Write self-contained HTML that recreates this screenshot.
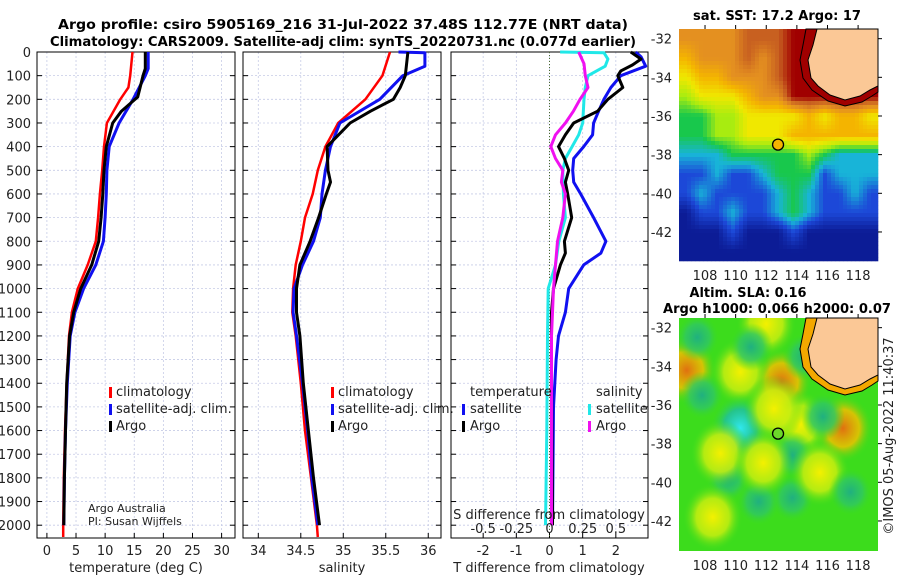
<!DOCTYPE html>
<html><head><meta charset="utf-8"><style>
html,body{margin:0;padding:0;background:#fff;}
svg{display:block;font-family:"DejaVu Sans","Liberation Sans",sans-serif;}
</style></head><body>
<svg id="fig" width="900" height="580" viewBox="0 0 900 580" xmlns="http://www.w3.org/2000/svg">
<text x="343" y="29" font-size="13.5" font-weight="bold" text-anchor="middle" textLength="570" lengthAdjust="spacingAndGlyphs">Argo profile: csiro 5905169_216 31-Jul-2022 37.48S 112.77E (NRT data)</text>
<text x="343" y="46" font-size="13.5" font-weight="bold" text-anchor="middle" textLength="586" lengthAdjust="spacingAndGlyphs">Climatology: CARS2009. Satellite-adj clim: synTS_20220731.nc (0.077d earlier)</text>
<g id="g1"></g>
<g id="g2"></g>
<g id="g3"></g>
<g id="m1"></g>
<g id="m2"></g>
<text x="777" y="20" font-size="13.5" font-weight="bold" text-anchor="middle" textLength="168" lengthAdjust="spacingAndGlyphs">sat. SST: 17.2 Argo: 17</text>
<text x="748" y="297" font-size="13.5" font-weight="bold" text-anchor="middle" textLength="117" lengthAdjust="spacingAndGlyphs">Altim. SLA: 0.16</text>
<text x="777" y="313" font-size="13.5" font-weight="bold" text-anchor="middle" textLength="228" lengthAdjust="spacingAndGlyphs">Argo h1000: 0.066 h2000: 0.07</text>
<text transform="translate(893,436) rotate(-90)" font-size="13" text-anchor="middle" fill="#222">©IMOS 05-Aug-2022 11:40:37</text>
</svg>
<script>
// ---- profile data ----
const depthTicks = [0,100,200,300,400,500,600,700,800,900,1000,1100,1200,1300,1400,1500,1600,1700,1800,1900,2000];
const tTicks = [0,5,10,15,20,25,30];
const sTicks = [34,34.5,35,35.5,36];
const dTTicks = [-2,-1,0,1,2];
const dSTicks = [-0.5,-0.25,0,0.25,0.5];
const dSTickLabels = ["-0.5","-0.25","0","0.25","0.5"];

const climTDepth = [0,100,150,200,300,400,500,600,700,800,900,1000,1100,1200,1400,1600,1800,2000,2050];
const climTVal   = [14.7,14.3,14.0,12.6,10.3,9.8,9.5,9.1,8.8,8.4,7.0,5.3,4.3,3.8,3.4,3.1,2.9,2.8,2.8];
const satTDepth  = [0,70,100,200,300,400,500,600,700,800,900,1000,1100,1200,1400,1600,1800,2000];
const satTVal    = [17.4,17.4,16.9,14.8,12.4,10.7,10.3,10.2,10.0,9.7,8.4,6.3,4.8,4.0,3.5,3.2,3.0,2.9];
const argoTDepth = [0,70,100,150,190,250,300,400,500,600,700,800,900,1000,1100,1200,1400,1600,1800,2000];
const argoTVal   = [16.9,16.9,16.5,16.0,15.6,12.8,11.3,10.2,9.8,9.6,9.3,8.9,7.7,5.8,4.6,3.9,3.4,3.2,3.0,2.9];

const climSDepth = [0,100,200,300,400,500,600,700,800,900,1000,1100,1200,1400,1600,1800,2000,2050];
const climSVal   = [35.55,35.46,35.26,34.94,34.79,34.70,34.64,34.55,34.50,34.44,34.41,34.40,34.44,34.50,34.55,34.62,34.69,34.70];
const satSDepth  = [0,3,60,100,200,300,400,500,600,700,800,900,1000,1100,1200,1400,1600,1800,2000];
const satSVal    = [35.65,35.96,35.96,35.70,35.43,34.96,34.85,34.79,34.75,34.73,34.65,34.52,34.42,34.41,34.45,34.52,34.58,34.63,34.70];
const argoSDepth = [0,100,150,200,250,300,400,500,550,600,700,800,900,1000,1100,1200,1400,1600,1800,2000];
const argoSVal   = [35.76,35.73,35.67,35.59,35.32,35.08,34.81,34.82,34.85,34.80,34.71,34.61,34.49,34.45,34.45,34.49,34.53,34.59,34.65,34.72];

const argoDTDepth = [0,30,55,80,100,150,200,250,300,350,400,450,500,550,600,700,800,850,900,1000,1100,1400,2000];
const argoDTVal   = [2.45,2.76,2.5,2.15,2.06,2.21,1.76,1.45,0.73,0.48,0.27,0.45,0.58,0.48,0.55,0.67,0.45,0.48,0.33,0.12,0.06,0.06,0.09];
const satDTDepth  = [0,20,60,100,150,200,250,300,350,400,450,500,550,600,700,800,850,900,1000,1100,1200,1300,1500,2000];
const satDTVal    = [2.6,2.76,2.9,2.15,1.85,1.64,1.48,1.33,1.3,1.03,0.73,0.7,0.73,0.94,1.33,1.7,1.55,1.03,0.58,0.48,0.27,0.2,0.12,0.09];
const argoDSDepth = [0,50,100,150,200,250,300,350,400,450,500,550,600,700,800,900,1000,1200,2000];
const argoDSVal   = [0.22,0.26,0.27,0.29,0.23,0.18,0.12,0.045,0.01,0.045,0.1,0.09,0.12,0.1,0.06,0.045,0.03,0.015,0.015];
const satDSDepth  = [0,3,30,60,100,150,200,300,350,400,450,500,600,700,800,900,1000,1200,1600,2000];
const satDSVal    = [0.08,0.41,0.44,0.42,0.29,0.27,0.26,0.25,0.22,0.17,0.12,0.1,0.105,0.12,0.07,0.045,-0.01,-0.015,-0.02,-0.03];

// ---- map data (levels: -1 dark blue ... 8 dark red) ----
const sstLats = [-32,-33,-34,-35,-36,-37,-38,-39,-40,-41,-42,-43];
const sstRows = [
 [6,6,6,6,7,7,7,8,8,8,8,8,8],
 [5,6,6,6,7,6,7,8,8,8,8,8,8],
 [4,5,5,6,6,6,7,8,8,8,8,8,8],
 [3,4,4,4,5,6,6,8,8,8,8,8,8],
 [2,2,3,3,4,4,4,4,5,4,5,5,4],
 [2,2,3,3,4,4,4,5,5,5,5,5,5],
 [1,1,1,2,2,2,2,2,3,2,1,1,1],
 [0,0,1,0,0,1,2,2,2,0,1,1,1],
 [0,1,0,0,0,0,1,2,1,0,0,1,0],
 [-1,0,0,1,0,0,1,2,1,0,0,0,0],
 [-1,-1,-1,0,-1,-1,-1,0,-1,-1,-1,-1,-1],
 [-1,-1,-1,-1,-1,-1,-1,-1,-1,-1,-1,-1,-1]];
const lonTicks = [108,110,112,114,116,118];
const latTicks = [-32,-34,-36,-38,-40,-42];
const slaBlobLon = [113,117,106.8,110.3,114.2,112,110.3,107.8,111,114.5,107.5,113.7,115.7,113.7,111.5,109.5,112.5,109,115.5,111.8,108.5,117.5];
const slaBlobLat = [-34.8,-37.2,-34.2,-34.3,-37,-31.8,-37.2,-35.5,-33,-33.5,-32.5,-38.6,-36.6,-40.8,-41,-39.8,-36.2,-38.5,-39.5,-39,-41.8,-40.5];
const slaBlobKind = ["o","o","o","y","y","y","c","t","t","t","t","t","t","t","t","t","y","y","y","y","y","t"];
const argoLon = 112.77, argoLat = -37.48;

const NS="http://www.w3.org/2000/svg";
function mk(tag, attrs, parent){const e=document.createElementNS(NS,tag);for(const k in attrs)e.setAttribute(k,attrs[k]);parent.appendChild(e);return e;}

const Y0=52, YS=0.2366, PB=538;
function yD(d){return Y0+d*YS;}

function panel(g,x0,x1,vmin,vmax,ticks,labels,showY){
  const sx=v=>x0+(v-vmin)/(vmax-vmin)*(x1-x0);
  for(const d of depthTicks){
    const l=mk('line',{x1:x0,x2:x1,y1:yD(d),y2:yD(d),stroke:'#c6cbe6','stroke-width':0.8,'stroke-dasharray':'2,2'},g);
    
    
    const t1=mk('line',{x1:x0,x2:x0+5,y1:yD(d),y2:yD(d),stroke:'#000'},g);
    
    
    const t2=mk('line',{x1:x1-5,x2:x1,y1:yD(d),y2:yD(d),stroke:'#000'},g);
    
    
    if(showY){
      const tx=mk('text',{x:x0-6,y:yD(d)+5,'font-size':13,'text-anchor':'end',fill:'#222'},g);
      tx.textContent=d;
      
      
    }
  }
  ticks.forEach((v,i)=>{
    const l=mk('line',{x1:sx(v),x2:sx(v),y1:Y0,y2:PB,stroke:'#c6cbe6','stroke-width':0.8,'stroke-dasharray':'2,2'},g);
    
    
    const t=mk('line',{x1:sx(v),x2:sx(v),y1:PB-5,y2:PB,stroke:'#000'},g);
    
    
    const tx=mk('text',{x:sx(v),y:555,'font-size':13,'text-anchor':'middle',fill:'#222'},g);
    tx.textContent=labels[i];
    
    
  });
  const r=mk('rect',{x:x0,y:Y0,width:x1-x0,height:PB-Y0,fill:'none',stroke:'#000','stroke-width':1},g);
  
  
  return sx;
}
function line(g,sx,ds,vs,color,w,name){
  const p=ds.map((d,i)=>sx(vs[i]).toFixed(1)+','+yD(d).toFixed(1)).join(' ');
  const pl=mk('polyline',{points:p,fill:'none',stroke:color,'stroke-width':w,'stroke-linejoin':'round'},g);
  
  
}
function txt(g,x,y,s,content,name,extra){
  const t=mk('text',Object.assign({x:x,y:y,'font-size':s,fill:'#222'},extra||{}),g);
  t.textContent=content;
  
  
  return t;
}
function legMark(g,x,y,color,name){
  const r=mk('rect',{x:x,y:y-9,width:3,height:11,fill:color},g);
  
  
}

// Panel 1
const g1=document.getElementById('g1');
const sx1=panel(g1,37,235,-1.7,32.3,tTicks,tTicks.map(String),true);
line(g1,sx1,climTDepth,climTVal,'#f00',2.5,'climatology-temperature-line');
line(g1,sx1,satTDepth,satTVal,'#1010f0',3,'satellite-temperature-line');
line(g1,sx1,argoTDepth,argoTVal,'#000',3,'argo-temperature-line');
txt(g1,136,572,13,'temperature (deg C)','x-axis-title-temperature',{'text-anchor':'middle'});
legMark(g1,109,396,'#f00','legend-mark-climatology');
legMark(g1,109,413,'#1010f0','legend-mark-satellite');
legMark(g1,109,430,'#000','legend-mark-argo');
txt(g1,116,396,13,'climatology','legend-climatology');
txt(g1,116,413,13,'satellite-adj. clim.','legend-satellite');
txt(g1,116,430,13,'Argo','legend-argo');
txt(g1,88,512,11,'Argo Australia','credit-line-1');
txt(g1,88,525,11,'PI: Susan Wijffels','credit-line-2');

// Panel 2
const g2=document.getElementById('g2');
const sx2=panel(g2,243,441,33.82,36.15,sTicks,sTicks.map(String),false);
line(g2,sx2,climSDepth,climSVal,'#f00',2.5,'climatology-salinity-line');
line(g2,sx2,satSDepth,satSVal,'#1010f0',3,'satellite-salinity-line');
line(g2,sx2,argoSDepth,argoSVal,'#000',3,'argo-salinity-line');
txt(g2,342,572,13,'salinity','x-axis-title-salinity',{'text-anchor':'middle'});
legMark(g2,331,396,'#f00','legend-mark-climatology');
legMark(g2,331,413,'#1010f0','legend-mark-satellite');
legMark(g2,331,430,'#000','legend-mark-argo');
txt(g2,338,396,13,'climatology','legend-climatology');
txt(g2,338,413,13,'satellite-adj. clim.','legend-satellite');
txt(g2,338,430,13,'Argo','legend-argo');

// Panel 3
const g3=document.getElementById('g3');
const sx3=panel(g3,451,648,-2.97,2.97,dTTicks,dTTicks.map(String),false);
const sxS=v=>sx3(v*4);
const zl=mk('line',{x1:sx3(0),x2:sx3(0),y1:Y0,y2:PB,stroke:'#4a6a2a','stroke-width':1,'stroke-dasharray':'1,2'},g3);


line(g3,sxS,satDSDepth,satDSVal,'#20e8e8',3,'satellite-salinity-diff-line');
line(g3,sx3,satDTDepth,satDTVal,'#1010f0',3,'satellite-temperature-diff-line');
line(g3,sx3,argoDTDepth,argoDTVal,'#000',3,'argo-temperature-diff-line');
line(g3,sxS,argoDSDepth,argoDSVal,'#f010f0',3,'argo-salinity-diff-line');
txt(g3,549,572,13,'T difference from climatology','x-axis-title-t-diff',{'text-anchor':'middle'});
txt(g3,549,519,13,'S difference from climatology','s-axis-title',{'text-anchor':'middle'});
dSTicks.forEach((v,i)=>{txt(g3,sxS(v),533,13,dSTickLabels[i],'s-tick-label',{'text-anchor':'middle'});});
txt(g3,470,396,13,'temperature','legend-temperature-header');
legMark(g3,462,413,'#1010f0','legend-mark-satellite-t');
legMark(g3,462,430,'#000','legend-mark-argo-t');
txt(g3,470,413,13,'satellite','legend-satellite-t');
txt(g3,470,430,13,'Argo','legend-argo-t');
txt(g3,596,396,13,'salinity','legend-salinity-header');
legMark(g3,588,413,'#20e8e8','legend-mark-satellite-s');
legMark(g3,588,430,'#f010f0','legend-mark-argo-s');
txt(g3,596,413,13,'satellite','legend-satellite-s');
txt(g3,596,430,13,'Argo','legend-argo-s');

// ---- maps ----
const MX0=679, MX1=878, LON0=106.3, LON1=119.3;
const palC=[[12,28,150],[28,72,216],[24,180,216],[24,200,76],[168,236,16],[240,232,0],[244,180,0],[228,144,32],[200,96,32],[160,0,0]];
function colOf(v){
  let t=v+1; if(t<0)t=0; if(t>9)t=9;
  const i=Math.min(8,Math.floor(t)), f=t-i;
  const a=palC[i], b=palC[i+1];
  return 'rgb('+a.map((c,k)=>Math.round(c+(b[k]-c)*f)).join(',')+')';
}
function mapFrame(g,Y0m,Y1m,dy,sxm,sym,coastStrip,circleFill){
  const sy=sym;
  const off=dy;
  const outer=[[806,29],[803,45],[800,60],[803,78],[812,90],[828,101],[845,106],[862,102],[872,96],[878,92],[878,29]];
  const land=[[817,29],[813,45],[808,60],[811,78],[818,86],[830,95],[845,100],[860,96],[870,90],[878,86],[878,29]];
  const pth=a=>'M'+a.map(p=>p[0]+','+(p[1]+off)).join(' L')+' Z';
  const s=mk('path',{d:pth(outer),fill:coastStrip,stroke:'#000','stroke-width':1},g);
  
  
  const l=mk('path',{d:pth(land),fill:'#fbc896',stroke:'#000','stroke-width':1},g);
  
  
  const c=mk('circle',{cx:sxm(argoLon),cy:sy(argoLat),r:5.5,fill:circleFill,stroke:'#000','stroke-width':1.3},g);
  
  
  lonTicks.forEach(v=>{
    const t=mk('line',{x1:sxm(v),x2:sxm(v),y1:Y0m-4,y2:Y0m,stroke:'#000'},g);
    
    
    txt(g,sxm(v),Y1m+19,13,String(v),'lon-tick-label',{'text-anchor':'middle'});
  });
  latTicks.forEach(v=>{
    const t=mk('line',{x1:MX1,x2:MX1+4,y1:sy(v),y2:sy(v),stroke:'#000'},g);
    
    
    txt(g,672,sy(v)+5,13,String(v),'lat-tick-label',{'text-anchor':'end'});
  });
}
// SST map (bilinear resampled)
const m1=document.getElementById('m1');
const sxm=v=>MX0+(v-LON0)/(LON1-LON0)*(MX1-MX0);
const sy1=v=>29+(-31.5-v)*19.33;
function sstAt(lon,lat){
  let fx=lon-(LON0+0.5), fy=(-32)-lat;
  const nr=sstRows.length, nc=sstRows[0].length;
  fx=Math.max(0,Math.min(nc-1.001,fx)); fy=Math.max(0,Math.min(nr-1.001,fy));
  const i=Math.floor(fy), j=Math.floor(fx), a=fy-i, b=fx-j;
  return sstRows[i][j]*(1-a)*(1-b)+sstRows[i][j+1]*(1-a)*b+sstRows[i+1][j]*a*(1-b)+sstRows[i+1][j+1]*a*b;
}
const CELL=4;
for(let y=29;y<261;y+=CELL){
  for(let x=MX0;x<MX1;x+=CELL){
    const lon=LON0+(x+CELL/2-MX0)/(MX1-MX0)*(LON1-LON0);
    const lat=-31.5-(y+CELL/2-29)/19.33;
    const r=mk('rect',{x:x,y:y,width:Math.min(CELL,MX1-x)+0.3,height:Math.min(CELL,261-y)+0.3,fill:colOf(sstAt(lon,lat))},m1);
    
    
  }
}
mapFrame(m1,29,261,0,sxm,sy1,'#a00000','#f4b400');

// SLA map
const m2=document.getElementById('m2');
const sy2=v=>318+(-31.5-v)*19.33;
const defs=mk('defs',{},m2);
const kinds={o:['#e07010','#f0c000'],y:['#f4f000','#c8ee10'],c:['#30e8f0','#20c0a0'],t:['#20b080','#30c860']};
for(const k in kinds){
  const rg=mk('radialGradient',{id:'rg'+k},defs);
  mk('stop',{offset:'0%','stop-color':kinds[k][0]},rg);
  mk('stop',{offset:'55%','stop-color':kinds[k][1],'stop-opacity':0.85},rg);
  mk('stop',{offset:'100%','stop-color':'#3cdc1c','stop-opacity':0},rg);
}
const bg=mk('rect',{x:MX0,y:318,width:MX1-MX0,height:233,fill:'#3cdc1c'},m2);


const cp=mk('clipPath',{id:'slaclip'},defs);
mk('rect',{x:MX0,y:318,width:MX1-MX0,height:233},cp);
const bl=mk('g',{'clip-path':'url(#slaclip)'},m2);
slaBlobLon.forEach((lon,i)=>{
  const k=slaBlobKind[i];
  const e=mk('ellipse',{cx:sxm(lon),cy:sy2(slaBlobLat[i]),rx:k==='t'?22:30,ry:k==='t'?24:34,fill:'url(#rg'+k+')'},bl);
  
  
});
mapFrame(m2,318,551,289,sxm,sy2,'#f4a800','#6cd82a');
</script>
</body></html>
